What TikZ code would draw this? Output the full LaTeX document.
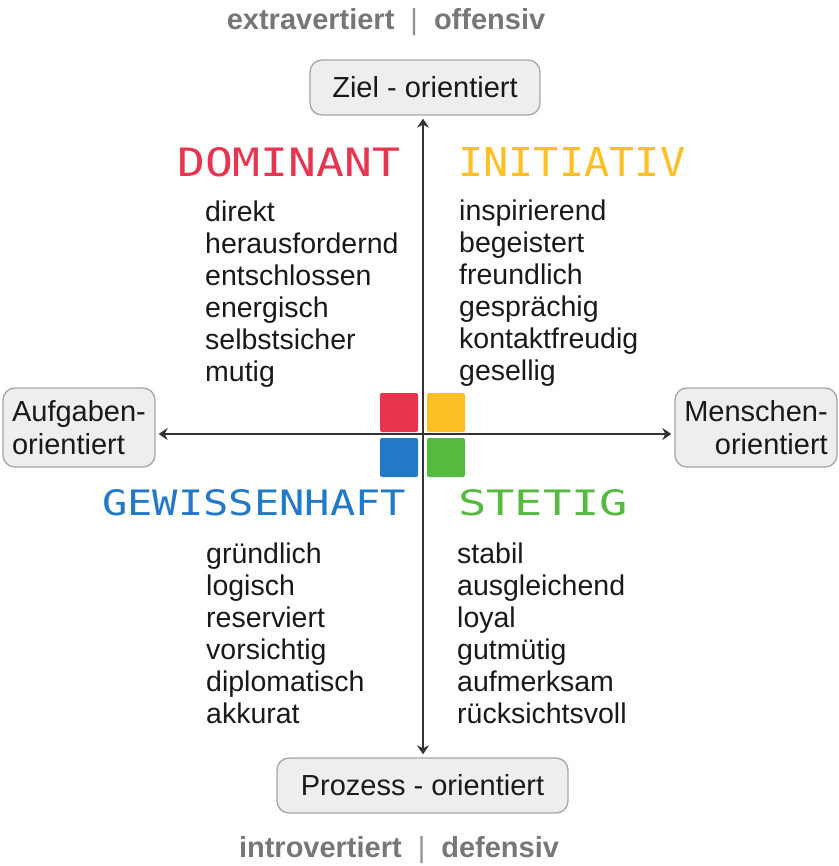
\documentclass[tikz,border=0pt]{standalone}
\usepackage{fontspec}
\setmainfont{Liberation Sans}
\newfontfamily\headfont{DejaVu Sans Mono}
\usetikzlibrary{arrows.meta}

\definecolor{dred}{HTML}{E8354F}
\definecolor{dyellow}{HTML}{FDC024}
\definecolor{dblue}{HTML}{2279C7}
\definecolor{dgreen}{HTML}{55BB40}
\definecolor{axisgray}{HTML}{333333}
\definecolor{boxfill}{HTML}{EEEEEE}
\definecolor{boxline}{HTML}{A6A6A6}
\definecolor{poletext}{HTML}{777777}

\newcommand{\polebar}{\hspace{16pt}{\mdseries\color{poletext!80}|}\hspace{16pt}}

\tikzset{
  labelbox/.style={draw=boxline, fill=boxfill, line width=1.3pt, rounded corners=12pt,
    inner sep=0pt, font=\fontsize{29}{33}\selectfont, text=black!90},
  axisline/.style={draw=axisgray, line width=2pt,
    {Stealth[length=9pt,width=12pt,inset=3pt]}-{Stealth[length=9pt,width=12pt,inset=3pt]},
    shorten <=3pt, shorten >=3pt},
  trait/.style={anchor=base west, inner sep=0pt, font=\fontsize{28.5}{32}\selectfont, text=black!90},
  heading/.style={anchor=south west, inner sep=0pt},
  pole/.style={anchor=base, inner sep=0pt, font=\fontsize{29}{33}\selectfont\bfseries, text=poletext},
  quad/.style={rounded corners=2pt}
}

\begin{document}
\begin{tikzpicture}[x=1pt,y=-1pt]
  \useasboundingbox (0,0) rectangle (838,866);

  % poles of the vertical axis
  \node[pole] (extra) at (386,30) {extravertiert\polebar offensiv};
  \node[pole] (intro) at (399,857) {introvertiert\polebar defensiv};

  % axis end boxes
  \node[labelbox, minimum width=230pt, minimum height=55pt] (ziel) at (425,87.5) {Ziel - orientiert};
  \node[labelbox, minimum width=291pt, minimum height=55pt] (prozess) at (422.5,785.5) {Prozess - orientiert};
  \node[labelbox, minimum width=152pt, minimum height=79pt, align=left] (aufgaben) at (79,427.5) {Aufgaben-\\orientiert};
  \node[labelbox, minimum width=162pt, minimum height=79pt, align=right] (menschen) at (756,427.5) {Menschen-\\orientiert};

  % colour squares in the centre
  \fill[dred, quad]    (380,393) rectangle (418,432);
  \fill[dyellow, quad] (427,393) rectangle (465,432);
  \fill[dblue, quad]   (380,438) rectangle (418,477);
  \fill[dgreen, quad]  (427,438) rectangle (465,477);

  % axes
  \coordinate (vx) at (423,0);
  \coordinate (hy) at (0,434);
  \draw[axisline] (ziel.south -| vx) -- (prozess.north -| vx);
  \draw[axisline] (aufgaben.east |- hy) -- (menschen.west |- hy);

  % quadrant headings
  \node[heading] (dominant) at (177,177) {\resizebox{223pt}{29pt}{\headfont\color{dred}DOMINANT}};
  \node[heading] (initiativ) at (458,177) {\resizebox{227pt}{29pt}{\headfont\color{dyellow}INITIATIV}};
  \node[heading] (gewissenhaft) at (102,516) {\resizebox{304pt}{26pt}{\headfont\color{dblue}GEWISSENHAFT}};
  \node[heading] (stetig) at (458,516) {\resizebox{170pt}{26pt}{\headfont\color{dgreen}STETIG}};

  % trait lists
  \foreach \w [count=\i] in {direkt,herausfordernd,entschlossen,energisch,selbstsicher,mutig}
    \node[trait] (dom\i) at (205,{222+31.8*(\i-1)}) {\w};
  \foreach \w [count=\i] in {inspirierend,begeistert,freundlich,gesprächig,kontaktfreudig,gesellig}
    \node[trait] (ini\i) at (459,{221+31.8*(\i-1)}) {\w};
  \foreach \w [count=\i] in {gründlich,logisch,reserviert,vorsichtig,diplomatisch,akkurat}
    \node[trait] (gew\i) at (206,{563+32*(\i-1)}) {\w};
  \foreach \w [count=\i] in {stabil,ausgleichend,loyal,gutmütig,aufmerksam,rücksichtsvoll}
    \node[trait] (ste\i) at (457,{563+32*(\i-1)}) {\w};
\end{tikzpicture}
\end{document}
